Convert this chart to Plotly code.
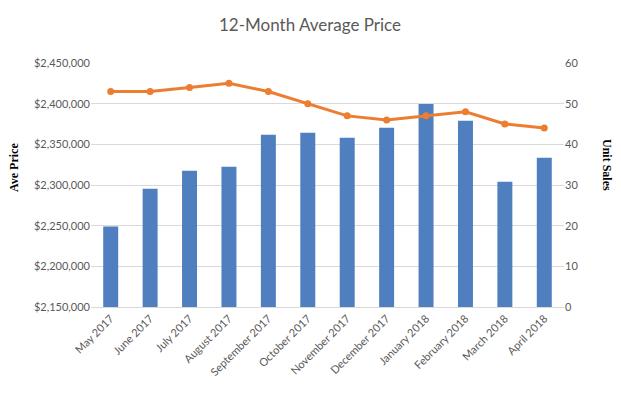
import plotly.graph_objects as go

months = ["May 2017", "June 2017", "July 2017", "August 2017", "September 2017",
          "October 2017", "November 2017", "December 2017", "January 2018",
          "February 2018", "March 2018", "April 2018"]
ave_price = [2249000, 2295300, 2317500, 2322400, 2361800, 2364300,
             2358100, 2370400, 2399600, 2379000, 2303900, 2333500]
unit_sales = [53, 53, 54, 55, 53, 50, 47, 46, 47, 48, 45, 44]

# page body has an 8px margin, so the figure is sized to fit inside the window
W, H = 605, 380
ML, MR, MT, MB = 83, 49, 55, 81
pw, ph = W - ML - MR, H - MT - MB

fig = go.Figure()
fig.add_trace(go.Bar(x=months, y=ave_price, marker_color="#4F7FBE",
                     marker_line_width=0, yaxis="y", name="Ave Price"))
fig.add_trace(go.Scatter(x=months, y=unit_sales, yaxis="y2", mode="lines+markers",
                         line=dict(color="#ED7D31", width=3),
                         marker=dict(size=7, color="#ED7D31"), name="Unit Sales"))

tickfont = dict(family="Lato, Liberation Sans, sans-serif", size=11, color="#595959")
fig.update_layout(
    width=W, height=H,
    margin=dict(l=ML, r=MR, t=MT, b=MB, autoexpand=False),
    paper_bgcolor="white", plot_bgcolor="white",
    showlegend=False,
    bargap=0.62,
    title=dict(text="12-Month Average Price", x=(310 - 8) / W, xref="container", xanchor="center",
               y=1 - 17 / H, yref="container", yanchor="middle",
               font=dict(family="Lato, Liberation Sans, sans-serif", size=17, color="#595959")),
    xaxis=dict(tickangle=-45, tickfont=tickfont, showgrid=False, showline=True,
               linecolor="#D9D9D9", linewidth=1, ticks="", automargin=False,
               range=[-0.5, len(months) - 0.5]),
    yaxis=dict(range=[2150000, 2450000], dtick=50000, tickformat="$,.0f",
               tickfont=tickfont, gridcolor="#D9D9D9", gridwidth=1,
               zeroline=False, showline=False, ticks="", automargin=False),
    yaxis2=dict(range=[0, 60], dtick=10, overlaying="y", side="right",
                tickfont=tickfont, showgrid=False, zeroline=False, showline=False,
                ticks="", automargin=False),
)

# axis titles
fig.add_annotation(text="<b>Ave Price</b>", xref="paper", yref="paper",
                   x=(6 - ML) / pw, y=(H - MB - 160) / ph, textangle=-90,
                   showarrow=False, xanchor="center", yanchor="middle",
                   font=dict(family="Liberation Serif, serif", size=12, color="black"))
fig.add_annotation(text="<b>Unit Sales</b>", xref="paper", yref="paper",
                   x=(599 - ML) / pw, y=(H - MB - 157) / ph, textangle=90,
                   showarrow=False, xanchor="center", yanchor="middle",
                   font=dict(family="Liberation Serif, serif", size=12, color="black"))

fig.write_html("out.html")
